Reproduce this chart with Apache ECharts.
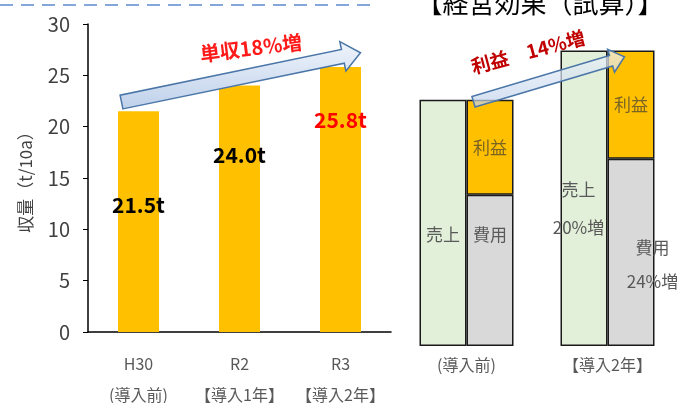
<!DOCTYPE html>
<html><head><meta charset="utf-8">
<script src="https://cdn.jsdelivr.net/npm/echarts@6/dist/echarts.min.js"></script>
<style>html,body{margin:0;padding:0;background:#fff}#c{width:697px;height:403px}</style>
</head><body><div id="c"></div>
<script>
// ---- data ----
const yieldCats = ['H30\n(導入前)', 'R2\n【導入1年】', 'R3\n【導入2年】'];
const yieldValues = [21.5, 24.0, 25.8];
const yieldLabels = ['21.5t', '24.0t', '25.8t'];
const yTicks = [0, 5, 10, 15, 20, 25, 30];
const effectCats = ['(導入前)', '【導入2年】'];
const salesValues = [100, 120];
const costValues = [61.4, 76.1];
const profitValues = [38.6, 43.9];

const FONT = '"Noto Sans CJK JP", "Noto Sans", sans-serif';
const chart = echarts.init(document.getElementById('c'));

const yieldLabelDy = [94, 69, 53];
const yieldLabelColor = ['#000', '#000', '#ff0000'];

const option = {
  animation: false,
  title: {
    text: '【経営効果（試算）】', left: 535, top: -15, textAlign: 'center',
    textStyle: { fontFamily: FONT, fontSize: 26, fontWeight: 'normal', color: '#000' }
  },
  grid: [
    { left: 88, right: 306, top: 24, bottom: 71, outerBoundsMode: 'none', containLabel: false },
    { left: 396, right: 19, top: 26, bottom: 57, outerBoundsMode: 'none', containLabel: false }
  ],
  xAxis: [
    {
      gridIndex: 0, type: 'category', data: yieldCats,
      axisLine: { lineStyle: { color: '#000', width: 1.5 } },
      axisTick: { alignWithLabel: true, length: 4, lineStyle: { color: '#000' } },
      axisLabel: { interval: 0, fontFamily: FONT, fontSize: 16, color: '#595959', lineHeight: 31, margin: 16 }
    },
    {
      gridIndex: 1, type: 'category', data: effectCats,
      axisLine: { show: false }, axisTick: { show: false },
      axisLabel: { interval: 0, fontFamily: FONT, fontSize: 16, color: '#595959', margin: 11 }
    }
  ],
  yAxis: [
    {
      gridIndex: 0, type: 'value', min: yTicks[0], max: yTicks[yTicks.length - 1], interval: 5,
      name: '収量（t/10a）', nameLocation: 'middle', nameRotate: 90, nameGap: 54,
      nameTextStyle: { fontFamily: FONT, fontSize: 17, color: '#404040' },
      axisLine: { show: true, lineStyle: { color: '#000', width: 1.5 } },
      axisTick: { show: true, length: 5, lineStyle: { color: '#000' } },
      splitLine: { show: false },
      axisLabel: { fontFamily: FONT, fontSize: 20, color: '#404040', margin: 18 }
    },
    {
      gridIndex: 1, type: 'value', min: 0, max: 130, show: false
    }
  ],
  series: [
    {
      type: 'bar', xAxisIndex: 0, yAxisIndex: 0, barWidth: 41,
      itemStyle: { color: '#ffc000' },
      data: yieldValues.map((v, i) => ({
        value: v,
        label: {
          show: true, formatter: yieldLabels[i], position: ['50%', yieldLabelDy[i]],
          align: 'center', verticalAlign: 'middle',
          fontFamily: FONT, fontSize: 21, fontWeight: 'bold', color: yieldLabelColor[i]
        }
      }))
    },
    {
      name: '売上', type: 'bar', xAxisIndex: 1, yAxisIndex: 1, stack: 'sales', barWidth: 47, barGap: '0%',
      itemStyle: { color: '#e2efd9', borderColor: '#1a1a1a', borderWidth: 1.5 },
      data: [
        { value: salesValues[0], label: { show: true, formatter: '売上', position: ['50%', 135], align: 'center', verticalAlign: 'middle' } },
        { value: salesValues[1], label: { show: true, formatter: '売上\n20%増', position: [18, 158], align: 'center', verticalAlign: 'middle', lineHeight: 38 } }
      ],
      label: { fontFamily: FONT, fontSize: 17, color: '#595959' }
    },
    {
      name: '費用', type: 'bar', xAxisIndex: 1, yAxisIndex: 1, stack: 'pl', barWidth: 47, barGap: '0%',
      itemStyle: { color: '#d9d9d9', borderColor: '#1a1a1a', borderWidth: 1.5 },
      data: [
        { value: costValues[0], label: { show: true, formatter: '費用', position: ['50%', 40], align: 'center', verticalAlign: 'middle' } },
        { value: costValues[1], label: { show: true, formatter: '費用\n24%増', position: [45, 106], align: 'center', verticalAlign: 'middle', lineHeight: 34 } }
      ],
      label: { fontFamily: FONT, fontSize: 17, color: '#595959' }
    },
    {
      name: '利益', type: 'bar', xAxisIndex: 1, yAxisIndex: 1, stack: 'pl', barWidth: 47, barGap: '0%',
      itemStyle: { color: '#ffc000', borderColor: '#1a1a1a', borderWidth: 1.5 },
      data: profitValues,
      label: { show: true, formatter: '利益', position: 'inside', fontFamily: FONT, fontSize: 17, color: '#7a6424' }
    }
  ]
};
chart.setOption(option);

function arrowPoints(S, T, w, h, L) {
  const dx = T[0] - S[0], dy = T[1] - S[1];
  const len = Math.hypot(dx, dy);
  const u = [dx / len, dy / len], n = [-u[1], u[0]];
  const B = [T[0] - u[0] * L, T[1] - u[1] * L];
  const p = (P, k) => [P[0] + n[0] * k, P[1] + n[1] * k];
  return [p(S, w), p(B, w), p(B, h), T, p(B, -h), p(B, -w), p(S, -w)];
}
const px = (g, pt) => chart.convertToPixel({ gridIndex: g }, pt);

const a1s = px(0, [0, 22.4]); a1s[0] -= 17;
const a1t = px(0, [2, 27.2]); a1t[0] += 20;
const a2s = px(1, [0, 99.2]); a2s[0] += 7;
const a2t = px(1, [1, 117.5]); a2t[0] += 17;

const grad = (op) => new echarts.graphic.LinearGradient(0, 0, 0, 1, [
  { offset: 0, color: 'rgba(240,245,252,' + op + ')' },
  { offset: 1, color: 'rgba(190,208,234,' + op + ')' }
]);

chart.setOption({
  graphic: [
    { type: 'line', shape: { x1: 0, y1: 5, x2: 370, y2: 5 }, style: { stroke: '#5b8bd0', lineWidth: 1.5, lineDash: [13, 8] } },
    { type: 'polygon', shape: { points: arrowPoints(a1s, a1t, 7, 15, 18) }, style: { fill: grad(1), stroke: '#4a76a8', lineWidth: 1.5 }, z: 10 },
    { type: 'polygon', shape: { points: arrowPoints(a2s, a2t, 5.5, 12, 14) }, style: { fill: grad(0.7), stroke: '#4a76a8', lineWidth: 1.5 }, z: 10 },
    { type: 'text', x: 251, y: 48, rotation: 7 * Math.PI / 180, style: { text: '単収18%増', fontFamily: FONT, fontSize: 20, fontWeight: 'bold', fill: '#ff1a1a', align: 'center', verticalAlign: 'middle' }, z: 11 },
    { type: 'text', x: 528, y: 52, rotation: 15 * Math.PI / 180, style: { text: '利益　14%増', fontFamily: FONT, fontSize: 19, fontWeight: 'bold', fill: '#c00000', align: 'center', verticalAlign: 'middle' }, z: 11 }
  ]
});
</script></body></html>
